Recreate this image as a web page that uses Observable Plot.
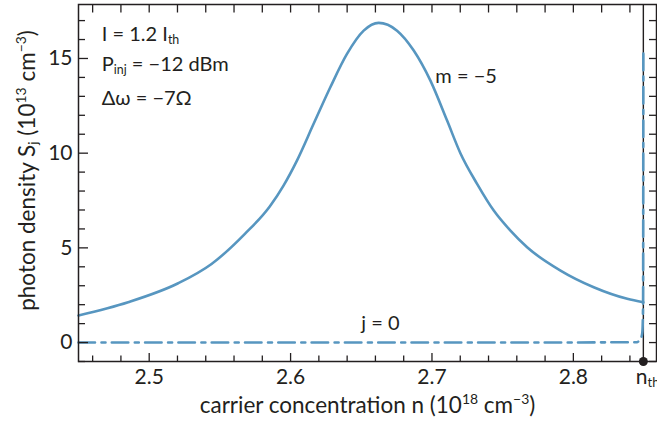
<!DOCTYPE html>
<html><head><meta charset="utf-8">
<script src="https://cdn.jsdelivr.net/npm/d3@7"></script>
<script src="https://cdn.jsdelivr.net/npm/@observablehq/plot@0.6"></script>
<style>
html,body{margin:0;padding:0;background:#fff;}
</style></head><body><div id="chart"></div>
<script>
// m = -5 solid curve (carrier concentration, photon density)
const mX = [2.45, 2.4851, 2.5205, 2.5441, 2.5677, 2.5854, 2.595, 2.6045, 2.6163, 2.6281, 2.6399, 2.6517, 2.6623, 2.6753, 2.6871, 2.6989, 2.7107, 2.7201, 2.7319, 2.7437, 2.7555, 2.7673, 2.7909, 2.8144, 2.8381, 2.8495];
const mY = [1.43, 2.13, 3.13, 4.15, 5.74, 7.2, 8.29, 9.61, 11.55, 13.48, 15.24, 16.47, 16.88, 16.47, 15.42, 13.83, 11.72, 10.0, 8.38, 6.97, 5.91, 5.03, 3.80, 2.92, 2.31, 2.13];
// j = 0 dash-dot curve
const jX = [2.45, 2.60, 2.75, 2.845, 2.8465, 2.8481, 2.8488, 2.8493, 2.8495];
const jY = [0, 0, 0, 0.02, 0.1, 0.28, 0.55, 2.0, 15.3];
const nth = 2.8495;
// ticks
const xTickLabels = [2.5, 2.6, 2.7, 2.8];
const xMinorTicks = [2.46, 2.48, 2.52, 2.54, 2.56, 2.58, 2.62, 2.64, 2.66, 2.68, 2.72, 2.74, 2.76, 2.78, 2.82, 2.84];
const xTopTicks = [2.46, 2.48, 2.5, 2.52, 2.54, 2.56, 2.58, 2.6, 2.62, 2.64, 2.66, 2.68, 2.7, 2.72, 2.74, 2.76, 2.78, 2.8, 2.82, 2.84];
const yTickLabels = [0, 5, 10, 15];
const yMinorTicks = [-1, 1, 2, 3, 4, 6, 7, 8, 9, 11, 12, 13, 14, 16, 17];
const yRightTicks = [-1, 0, 1, 2, 3, 4, 5, 6, 7, 8, 9, 10, 11, 12, 13, 14, 15, 16, 17];
// annotation texts
const annoX = [2.4665, 2.4665, 2.4665, 2.7024, 2.650];
const annoY = [16.25, 14.7, 12.9, 14.03, 1.0];
const annoText = ["I = 1.2 I_{th}", "P_{inj} = −12 dBm", "Δω = −7Ω", "m = −5", "j = 0"];
const xLabel = "carrier concentration n (10^{18} cm^{−3})";
const yLabel = "photon density S_{j} (10^{13} cm^{−3})";
const nthLabel = "n_{th}";

const W = 657, H = 421;
const mL = 78, mR = 1, mT = 4, mB = 60;
const fw = W - mL - mR, fh = H - mT - mB;
const ink = "#231f20";
const blue = "#5796c0";
const FONT = "Lato, sans-serif";

const mData = mX.map((x, i) => ({x, y: mY[i]}));
const jData = jX.map((x, i) => ({x, y: jY[i]}));
const annos = annoX.map((x, i) => ({x, y: annoY[i], t: annoText[i]}));

const chart = Plot.plot({
  width: W, height: H,
  marginLeft: mL, marginRight: mR, marginTop: mT, marginBottom: mB,
  style: {fontFamily: FONT, fontSize: "20px", color: ink, background: "#fff"},
  x: {domain: [2.45, 2.8588]},
  y: {domain: [-1.0, 17.85]},
  marks: [
    Plot.ruleX([nth], {stroke: ink, strokeWidth: 1.4}),
    Plot.line(mData, {x: "x", y: "y", stroke: blue, strokeWidth: 2.6, curve: "monotone-x"}),
    Plot.line(jData, {x: "x", y: "y", stroke: blue, strokeWidth: 2.6, curve: "monotone-x", strokeDasharray: "16.5,6.5,4,6.3"}),
    // ticks (inward)
    Plot.tickX(xTickLabels, {x: d => d, stroke: ink, strokeWidth: 1.3, insetTop: fh - 8}),
    Plot.tickX(xMinorTicks, {x: d => d, stroke: ink, strokeWidth: 1.3, insetTop: fh - 5.5}),
    Plot.tickX(xTopTicks, {x: d => d, stroke: ink, strokeWidth: 1.3, insetBottom: fh - 8.5}),
    Plot.tickY(yTickLabels, {y: d => d, stroke: ink, strokeWidth: 1.3, insetRight: fw - 10}),
    Plot.tickY(yMinorTicks, {y: d => d, stroke: ink, strokeWidth: 1.3, insetRight: fw - 7}),
    Plot.tickY(yRightTicks, {y: d => d, stroke: ink, strokeWidth: 1.3, insetLeft: fw - 7}),
    Plot.frame({stroke: ink, strokeWidth: 1.5}),
    Plot.axisX(xTickLabels, {tickSize: 0, tickPadding: 8, label: null, fontSize: 21, fill: ink, tickFormat: d => d.toFixed(1)}),
    Plot.axisY(yTickLabels, {tickSize: 0, tickPadding: 6, label: null, fontSize: 21, fill: ink}),
    Plot.dot([nth], {x: d => d, frameAnchor: "bottom", r: 4.5, fill: ink, stroke: null}),
    Plot.text([nthLabel], {x: () => nth, frameAnchor: "bottom", lineAnchor: "middle", text: d => d, textAnchor: "start", dx: -7.5, dy: 15.8, fontSize: 21, fill: ink}),
    Plot.text(annos, {x: "x", y: "y", text: "t", textAnchor: "start", lineAnchor: "middle", fontSize: 20, fill: ink}),
    Plot.text([xLabel], {frameAnchor: "bottom", lineAnchor: "middle", text: d => d, textAnchor: "middle", dy: 44.3, fontSize: 22.5, fill: ink}),
    Plot.text([yLabel], {frameAnchor: "left", lineAnchor: "middle", text: d => d, textAnchor: "middle", rotate: -90, dx: -51, dy: -12.5, fontSize: 22.5, fill: ink})
  ]
});

// rich text: _{...} subscript, ^{...} superscript
d3.select(chart).selectAll("text").each(function() {
  const el = this;
  if (el.querySelector("tspan")) return;
  const s = el.textContent;
  if (!/[_^]\{/.test(s)) return;
  const parts = [];
  const re = /([_^])\{([^}]*)\}/g;
  let last = 0, m;
  while ((m = re.exec(s))) {
    if (m.index > last) parts.push({t: s.slice(last, m.index), k: ""});
    parts.push({t: m[2], k: m[1]});
    last = re.lastIndex;
  }
  if (last < s.length) parts.push({t: s.slice(last), k: ""});
  el.textContent = "";
  for (const p of parts) {
    const ts = document.createElementNS("http://www.w3.org/2000/svg", "tspan");
    ts.textContent = p.t;
    if (p.k === "_") { ts.setAttribute("font-size", "0.62em"); ts.setAttribute("baseline-shift", "-0.22em"); }
    if (p.k === "^") { ts.setAttribute("font-size", "0.62em"); ts.setAttribute("baseline-shift", "0.62em"); }
    el.appendChild(ts);
  }
});

document.getElementById("chart").appendChild(chart);
</script></body></html>
